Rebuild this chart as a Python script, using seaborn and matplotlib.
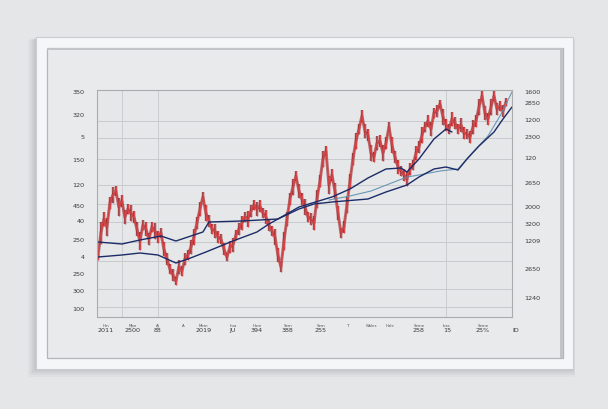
import matplotlib
matplotlib.use("Agg")
import matplotlib.pyplot as plt
from matplotlib.patches import Rectangle
from matplotlib.transforms import blended_transform_factory
import seaborn as sns

# closing price, one value per step
price = [60, 84, 98, 90, 114, 122, 126, 110, 116, 100, 108, 104, 100, 88, 76, 92,
         88, 78, 90, 86, 80, 84, 68, 58, 48, 42, 36, 50, 46, 58, 62, 70, 80, 94,
         108, 120, 104, 96, 88, 86, 80, 78, 68, 60, 70, 72, 82, 88, 94, 100, 98,
         106, 112, 108, 111, 104, 100, 92, 86, 80, 62, 50, 76, 98, 118, 130, 141,
         126, 118, 110, 100, 98, 94, 118, 136, 158, 166, 132, 142, 126, 104, 84,
         90, 112, 136, 158, 176, 188, 201, 186, 182, 164, 160, 174, 176, 164, 174,
         190, 172, 160, 150, 146, 142, 138, 148, 152, 164, 170, 182, 190, 196, 188,
         204, 206, 213, 200, 192, 188, 198, 194, 188, 192, 184, 183, 180, 190, 196,
         210, 221, 204, 198, 210, 221, 208, 211, 206, 215]
# high-low range of each step
spread = [6, 22, 14, 18, 12, 16, 10, 18, 12, 14, 10, 16, 12, 14, 18, 10,
          14, 12, 10, 16, 12, 10, 14, 12, 10, 12, 8, 14, 10, 12, 10, 14, 16, 12,
          14, 10, 16, 12, 10, 14, 12, 10, 12, 8, 12, 14, 10, 12, 14, 10, 16,
          12, 10, 14, 12, 10, 14, 12, 10, 16, 14, 10, 18, 14, 12, 16, 10,
          14, 12, 16, 10, 12, 14, 18, 12, 16, 10, 18, 12, 16, 14, 10,
          12, 16, 14, 12, 16, 10, 12, 14, 12, 16, 10, 14, 12, 16, 12,
          10, 16, 12, 14, 10, 12, 14, 12, 10, 14, 12, 16, 10, 12, 14,
          10, 12, 8, 16, 12, 10, 14, 12, 10, 14, 12, 10, 12, 14, 12,
          16, 10, 14, 12, 16, 10, 12, 10, 12, 8]

ma1_x = [0, 8, 14, 21, 26, 31, 35, 37, 48, 60, 67, 78, 84, 90, 96, 101, 103,
         107, 112, 116, 118]
ma1_y = [75, 73, 77, 81, 76, 81, 85, 95, 96, 98, 110, 120, 128, 139, 148, 149,
         145, 158, 178, 188, 185]

ma2_x = [0, 8, 14, 20, 23, 26, 30, 36, 45, 53, 57, 60, 67, 72, 78, 90, 96,
         103, 107, 112, 116, 120, 123, 127, 132, 135, 138]
ma2_y = [60, 62, 64, 62, 58, 54, 58, 65, 76, 85, 93, 98, 108, 113, 115, 118,
         125, 132, 140, 148, 150, 147, 158, 171, 185, 198, 210]

ma3_x = [77, 84, 91, 97, 103, 107, 114, 120, 125, 130, 134, 138]
ma3_y = [117, 121, 126, 133, 140, 142, 146, 148, 165, 181, 201, 225]

left_ticks = [226, 203, 181, 158, 133, 112, 97, 78, 61, 44, 27, 9]
left_labels = ["350", "320", "5", "150", "120", "450", "40", "250", "4", "250",
               "300", "100"]
right_ticks = [226, 215, 198, 181, 160, 135, 111, 94, 77, 49, 20]
right_labels = ["1600", "2850", "1200", "2300", "120", "2650", "2000", "3200",
                "1209", "2650", "1240"]
grid_y = [196, 179, 158, 132, 113, 95, 75, 56, 28, 10]
grid_x = [8, 20, 116]

x_ticks = [2.7, 11.7, 20, 28.3, 35.3, 45, 53, 63.3, 74.3, 83.3, 91.3, 97.3, 107,
           116.3, 128.3, 139.3]
x_main = ["2011", "2500", "88", "", "2019", "JU", "394", "388", "255", "", "",
          "", "258", "15", "25%", "ID"]
x_small = ["Hm", "Mpn", "Aj", "A", "Mem", "Ima", "Hom", "Sem", "Sem", "T",
           "Wales", "Hale", "Seme", "Iora", "Seme", ""]

W, H = 608, 410

sns.set_theme(style="white")
plt.rcParams["font.family"] = ["DejaVu Sans"]

fig = plt.figure(figsize=(W / 100, H / 100), dpi=100)
fig.patch.set_facecolor("#e5e6e8")


def frect(x0, y0, x1, y1, **kw):
    r = Rectangle((x0 / W, 1 - y1 / H), (x1 - x0) / W, (y1 - y0) / H,
                  transform=fig.transFigure, zorder=-10, **kw)
    fig.patches.append(r)


# soft shadow behind the frame
for i, a in enumerate([0.04, 0.05, 0.06, 0.08]):
    d = 8 - 2 * i
    frect(36 - d, 38 + d * 0.4, 573 + d * 0.3, 370 + d, facecolor="#50545a",
          edgecolor="none", alpha=a)
# frame and mat
frect(36, 38, 573, 370, facecolor="#f5f6f7", edgecolor="#cbcdd0", linewidth=0.8)
frect(47, 49, 563, 359, facecolor="#e9eaec", edgecolor="#b3b5b9", linewidth=0.9)
frect(47, 49, 563, 51, facecolor="#c2c4c7", edgecolor="none")
frect(560, 49, 563, 359, facecolor="#c2c4c7", edgecolor="none")

ax = fig.add_axes([97 / W, 1 - 318 / H, 415 / W, 227 / H])
ax.set_facecolor("#e6e7e9")

for gy in grid_y:
    ax.axhline(gy, color="#c8cacd", linewidth=0.7, zorder=0)
for gx in grid_x:
    ax.axvline(gx, color="#cccdd0", linewidth=0.7, zorder=0)

steps = list(range(len(price)))
lows = [p - s / 2 for p, s in zip(price, spread)]
highs = [p + s / 2 for p, s in zip(price, spread)]
sns.lineplot(x=steps, y=price, ax=ax, color="#9a272a", linewidth=2.2, alpha=0.6)
ax.vlines(steps, lows, highs, color="#8e2226", linewidth=1.7, alpha=0.8)
ax.vlines(steps, lows, highs, color="#d9474a", linewidth=0.9)
sns.lineplot(x=steps, y=price, ax=ax, color="#d04245", linewidth=1.0)
sns.lineplot(x=ma3_x, y=ma3_y, ax=ax, color="#5b8fae", linewidth=0.8, alpha=0.9)
sns.lineplot(x=ma1_x, y=ma1_y, ax=ax, color="#1c2c68", linewidth=1.0)
sns.lineplot(x=ma2_x, y=ma2_y, ax=ax, color="#1c2c68", linewidth=1.0)

ax.set_xlim(-0.3, 138)
ax.set_ylim(0, 227)
ax.set_yticks(left_ticks)
ax.set_yticklabels(left_labels, fontsize=4.6, color="#3a3a3a")
ax.set_xticks(x_ticks[:-1])
ax.set_xticklabels(x_main[:-1], fontsize=4.6, color="#3a3a3a")
ax.tick_params(axis="both", length=0, pad=9)
ax.tick_params(axis="x", pad=7)
for s in ax.spines.values():
    s.set_color("#a9abae")
    s.set_linewidth(0.8)

tr = blended_transform_factory(ax.transData, ax.transAxes)
for xt, lab in zip(x_ticks, x_small):
    ax.text(xt, -0.025, lab, transform=tr, fontsize=2.8, color="#555555",
            ha="center", va="top", clip_on=False)
ax.text(x_ticks[-1], -0.045, x_main[-1], transform=tr, fontsize=4.6,
        color="#3a3a3a", ha="center", va="top", clip_on=False)

ax2 = ax.twinx()
ax2.set_ylim(0, 227)
ax2.set_yticks(right_ticks)
ax2.set_yticklabels(right_labels, fontsize=4.6, color="#3a3a3a")
ax2.tick_params(axis="y", length=0, pad=9)
for s in ax2.spines.values():
    s.set_visible(False)

fig.savefig("out.png", dpi=100)
